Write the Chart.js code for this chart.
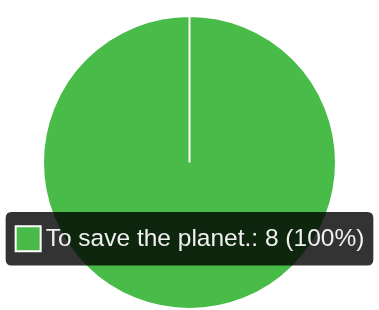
<!DOCTYPE html>
<html>
<head>
<meta charset="utf-8">
<script src="https://cdn.jsdelivr.net/npm/chart.js@4/dist/chart.umd.min.js"></script>
<style>
  html, body { margin: 0; padding: 0; background: #fff; }
  #box { width: 379px; height: 310px; }
</style>
</head>
<body>
<div id="box"><canvas id="pie"></canvas></div>
<script>
// categories and values
const labels = ["To save the planet."];
const values = [8];
const colors = ["#48bb48"];

const total = values.reduce((a, b) => a + b, 0);

// same as "average", only a little lower
Chart.Tooltip.positioners.lower = function (items, pos) {
    const p = Chart.Tooltip.positioners.average.call(this, items, pos);
    return p ? { x: p.x, y: p.y + 3 } : p;
};

const chart = new Chart(document.getElementById("pie"), {
    type: "pie",
    data: {
        labels: labels,
        datasets: [{
            data: values,
            backgroundColor: colors,
            hoverBackgroundColor: colors,
            borderColor: "#ffffff",
            hoverBorderColor: "#ffffff",
            borderWidth: 2,
            hoverOffset: 0
        }]
    },
    options: {
        responsive: true,
        maintainAspectRatio: false,
        animation: false,
        layout: { padding: { top: 15 } },
        plugins: {
            legend: { display: false },
            tooltip: {
                position: "lower",
                backgroundColor: "rgba(0,0,0,0.8)",
                bodyFont: { family: "Liberation Sans, Arial, sans-serif", size: 24.5 },
                bodyColor: "#f0f0f0",
                padding: { left: 10, right: 9, top: 12, bottom: 12 },
                cornerRadius: 6,
                boxWidth: 25,
                boxHeight: 25,
                boxPadding: 3,
                callbacks: {
                    title: () => "",
                    label: (ctx) => {
                        const pct = Math.round(ctx.parsed / total * 100);
                        return ctx.label + ": " + ctx.parsed + " (" + pct + "%)";
                    }
                }
            }
        }
    }
});

// show the tooltip like in the screenshot
const active = [{ datasetIndex: 0, index: 0 }];
chart.setActiveElements(active);
chart.tooltip.setActiveElements(active, { x: 0, y: 0 });
chart.update();
</script>
</body>
</html>
